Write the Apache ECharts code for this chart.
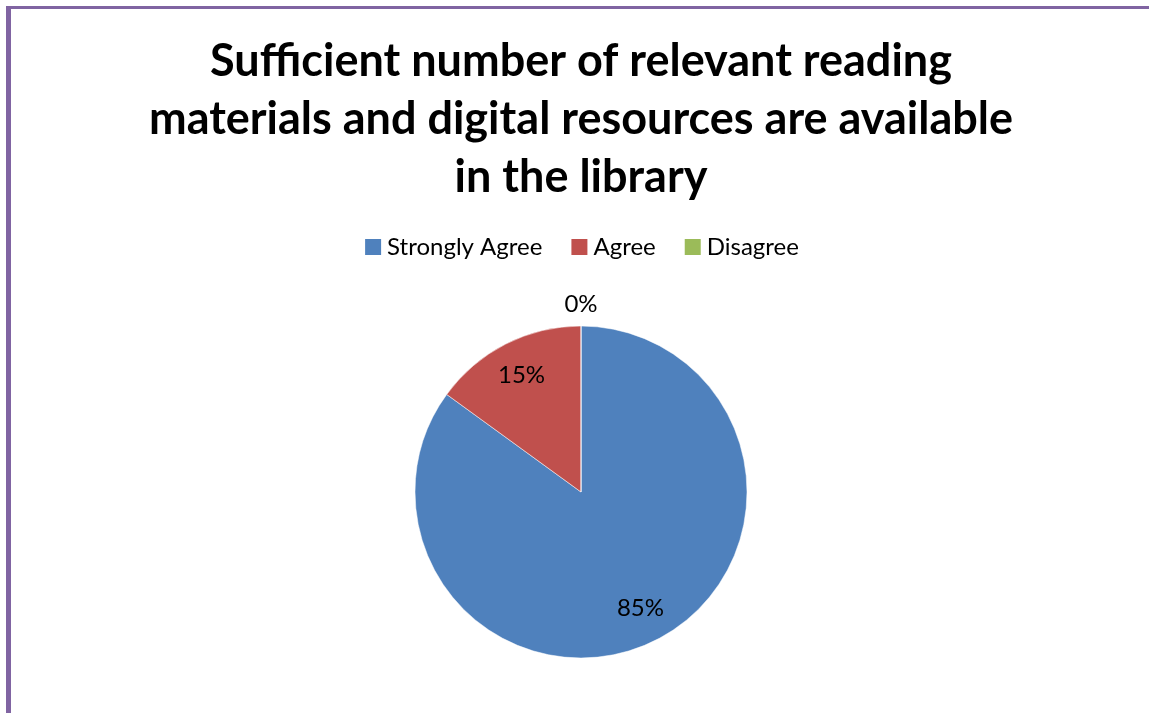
<!DOCTYPE html>
<html>
<head>
<meta charset="utf-8">
<script src="https://cdn.jsdelivr.net/npm/echarts@6/dist/echarts.min.js"></script>
<style>
  html, body { margin: 0; padding: 0; background: #fff; }
  #frame {
    position: absolute; left: 6px; top: 6px; width: 1143px; height: 707px;
    border-top: 3px solid #8064A2; border-left: 5px solid #8064A2;
  }
  #myChart { position: absolute; left: 13px; top: 0; width: 1136px; height: 713px; }
</style>
</head>
<body>
<div id="frame"></div>
<div id="myChart"></div>
<script>
// data
var titleText = 'Sufficient number of relevant reading\nmaterials and digital resources are available\nin the library';
var categories = ['Strongly Agree', 'Agree', 'Disagree'];
var percents = [85, 15, 0];
var colors = ['#4F81BD', '#C0504D', '#9BBB59'];

var pieData = categories.map(function (c, i) {
  return { name: c, value: percents[i], itemStyle: { color: colors[i] } };
});

var myChart = echarts.init(document.getElementById('myChart'));
myChart.setOption({
  animation: false,
  title: {
    text: titleText,
    left: 'center',
    top: 27,
    textStyle: { fontFamily: 'Lato', fontWeight: 'bold', fontSize: 45, lineHeight: 58, color: '#000' }
  },
  legend: {
    data: categories,
    top: 230,
    left: 'center',
    icon: 'rect',
    itemWidth: 18,
    itemHeight: 18,
    itemGap: 27,
    textStyle: { fontFamily: 'Lato', fontSize: 24, color: '#000', padding: [0, 0, 0, 0] }
  },
  series: [
    {
      // the visible pie
      type: 'pie',
      center: [568, 492],
      radius: 166,
      startAngle: 90,
      clockwise: true,
      label: { show: false },
      labelLine: { show: false },
      itemStyle: { borderColor: '#fff', borderWidth: 0.5 },
      data: pieData
    },
    {
      // transparent ring, only to place the inside labels
      type: 'pie',
      silent: true,
      center: [568, 492],
      radius: 256,
      startAngle: 90,
      clockwise: true,
      itemStyle: { color: 'transparent' },
      labelLine: { show: false },
      label: {
        position: 'inside',
        fontFamily: 'Lato', fontSize: 24, color: '#000',
        formatter: function (p) { return p.value > 0 ? p.value + '%' : ''; }
      },
      data: pieData.map(function (d) { return { name: d.name, value: d.value }; })
    },
    {
      // transparent ring for the 0% label above the pie
      type: 'pie',
      silent: true,
      center: [568, 492],
      radius: 370,
      startAngle: 90,
      clockwise: true,
      itemStyle: { color: 'transparent' },
      labelLine: { show: false },
      label: {
        position: 'inside',
        fontFamily: 'Lato', fontSize: 24, color: '#000',
        formatter: function (p) { return p.value === 0 ? p.value + '%' : ''; }
      },
      data: pieData.map(function (d) { return { name: d.name, value: d.value }; })
    }
  ]
});
</script>
</body>
</html>
